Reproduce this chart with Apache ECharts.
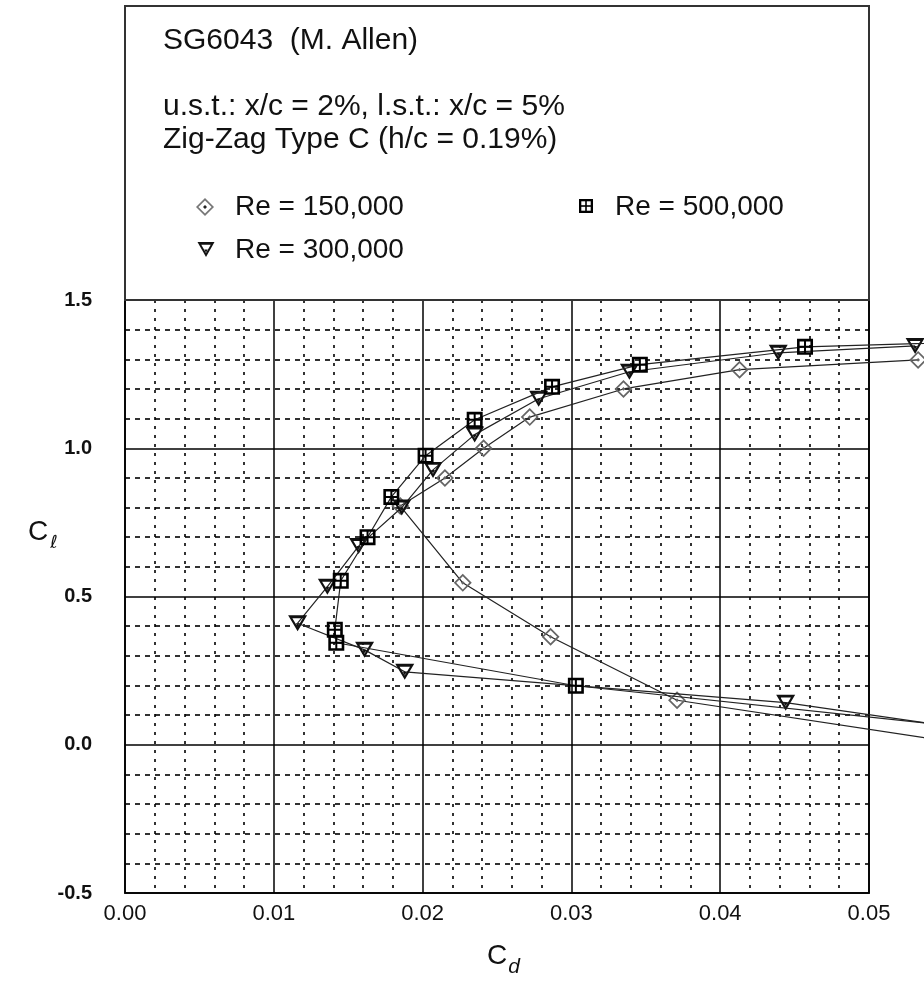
<!DOCTYPE html>
<html><head><meta charset="utf-8">
<script src="https://cdn.jsdelivr.net/npm/echarts@6/dist/echarts.min.js"></script>
<style>html,body{margin:0;padding:0;background:#fff}#c{width:924px;height:1000px}</style>
</head><body><div id="c"></div>
<script>
// ---- data ----
const xTickMin = 0.00, xTickMax = 0.05, xTickStep = 0.01;
const yTickMin = -0.5, yTickMax = 1.5, yTickStep = 0.5;

const re150Name = 'Re = 150,000';
const re150Cd = [0.0533, 0.0413, 0.0335, 0.0272, 0.0241, 0.0215, 0.0185, 0.0227, 0.0286, 0.0371, 0.0600];
const re150Cl = [1.298, 1.265, 1.200, 1.105, 1.000, 0.900, 0.805, 0.546, 0.364, 0.150, -0.024];

const re300Name = 'Re = 300,000';
const re300Cd = [0.0531, 0.0439, 0.0339, 0.0278, 0.0235, 0.0207, 0.0186, 0.0157, 0.0136, 0.0116, 0.0161, 0.0188, 0.0444, 0.0600];
const re300Cl = [1.345, 1.322, 1.258, 1.167, 1.046, 0.927, 0.800, 0.670, 0.533, 0.410, 0.320, 0.246, 0.142, 0.029];

const re500Name = 'Re = 500,000';
const re500Cd = [0.0580, 0.0457, 0.0346, 0.0287, 0.0235, 0.0202, 0.0179, 0.0163, 0.0145, 0.0141, 0.0142, 0.0303, 0.0600];
const re500Cl = [1.360, 1.342, 1.282, 1.207, 1.096, 0.975, 0.836, 0.700, 0.553, 0.388, 0.344, 0.199, 0.040];

const titleLines = ['SG6043  (M. Allen)', 'u.s.t.: x/c = 2%, l.s.t.: x/c = 5%', 'Zig-Zag Type C (h/c = 0.19%)'];

// ---- layout ----
const gridLeft = 125, gridRight = 55, gridTop = 300, gridBottom = 107, chartW = 924;
const plotW = chartW - gridLeft - gridRight;               // width of the framed plot (0 .. 0.05)
// data layer extends to the canvas edge with the same scale (marks run past the frame in the original)
const dataXMax = xTickMax * (chartW - gridLeft) / plotW;

// ---- symbols ----
const diamondPath = 'M8,0 L16,8 L8,16 L0,8 Z M8,2.2 L2.2,8 L8,13.8 L13.8,8 Z M8,6.3 L9.7,8 L8,9.7 L6.3,8 Z';
const trianglePath = 'M0,0 L16,0 L8,14 Z M3.6,2.6 L8,10.3 L12.4,2.6 Z M6.4,7 L9.6,7 L8,10 Z';
const squarePath = 'M0,0 H16 V16 H0 Z M2.6,2.6 V7 H7 V2.6 Z M9,2.6 V7 H13.4 V2.6 Z M2.6,9 V13.4 H7 V9 Z M9,9 V13.4 H13.4 V9 Z';

function zip(a, b) { return a.map((v, i) => [v, b[i]]); }

const chart = echarts.init(document.getElementById('c'), null, {renderer: 'canvas'});

function mkSeries(name, cd, cl, path, size, color, z) {
  return {
    name: name, type: 'line', data: zip(cd, cl), clip: false, z: z,
    xAxisIndex: 1, yAxisIndex: 1,
    symbol: 'path://' + path, symbolSize: size, symbolKeepAspect: false,
    showAllSymbol: true,
    lineStyle: {color: '#222', width: 1.2},
    itemStyle: {color: color},
    emphasis: {disabled: true}
  };
}

// legend marker helpers (graphic polygons / rects)
function poly(pts, fill) { return {type: 'polygon', shape: {points: pts}, style: {fill: fill}, z: 20}; }
function rect(x, y, w, h, fill) { return {type: 'rect', shape: {x: x, y: y, width: w, height: h}, style: {fill: fill}, z: 20}; }
function diamondIcon(cx, cy) {
  return [
    poly([[cx, cy - 9], [cx + 9, cy], [cx, cy + 9], [cx - 9, cy]], '#777'),
    poly([[cx, cy - 6.6], [cx + 6.6, cy], [cx, cy + 6.6], [cx - 6.6, cy]], '#fff'),
    poly([[cx, cy - 2], [cx + 2, cy], [cx, cy + 2], [cx - 2, cy]], '#222')
  ];
}
function triangleIcon(x, y) {
  return [
    poly([[x, y], [x + 17, y], [x + 8.5, y + 15]], '#111'),
    poly([[x + 3.8, y + 2.8], [x + 13.2, y + 2.8], [x + 8.5, y + 11]], '#fff'),
    poly([[x + 6.8, y + 7.5], [x + 10.2, y + 7.5], [x + 8.5, y + 10.7]], '#111')
  ];
}
function squareIcon(x, y) {
  return [
    rect(x, y, 14, 14, '#000'),
    rect(x + 2.3, y + 2.3, 3.9, 3.9, '#fff'),
    rect(x + 7.8, y + 2.3, 3.9, 3.9, '#fff'),
    rect(x + 2.3, y + 7.8, 3.9, 3.9, '#fff'),
    rect(x + 7.8, y + 7.8, 3.9, 3.9, '#fff')
  ];
}

const legendFont = '28px "Liberation Sans", Arial, sans-serif';
const titleFont = '30px "Liberation Sans", Arial, sans-serif';

chart.setOption({
  animation: false,
  backgroundColor: '#fff',
  grid: [
    {left: gridLeft, right: gridRight, top: gridTop, bottom: gridBottom, show: true, borderColor: '#222', borderWidth: 2, backgroundColor: 'transparent'},
    {left: gridLeft, right: 0, top: gridTop, bottom: gridBottom, show: false}
  ],
  xAxis: [{
    gridIndex: 0, type: 'value', min: xTickMin, max: xTickMax, interval: xTickStep,
    axisLine: {show: false}, axisTick: {show: false},
    axisLabel: {formatter: v => v.toFixed(2), margin: 10, color: '#111', fontSize: 22, fontFamily: '"Liberation Sans Narrow", "Liberation Sans", Arial, sans-serif'},
    splitLine: {show: true, lineStyle: {color: '#000', width: 1.5}},
    minorTick: {show: false, splitNumber: 5},
    minorSplitLine: {show: true, lineStyle: {color: '#000', width: 1.6, type: [3, 6]}}
  }, {
    gridIndex: 1, type: 'value', min: xTickMin, max: dataXMax, show: false
  }],
  yAxis: [{
    gridIndex: 0, type: 'value', min: yTickMin, max: yTickMax, interval: yTickStep,
    axisLine: {show: false}, axisTick: {show: false},
    axisLabel: {formatter: v => v.toFixed(1), margin: 33, color: '#111', fontSize: 20, fontWeight: 'bold', fontFamily: '"Liberation Sans", Arial, sans-serif'},
    splitLine: {show: true, lineStyle: {color: '#000', width: 1.5}},
    minorTick: {show: false, splitNumber: 5},
    minorSplitLine: {show: true, lineStyle: {color: '#000', width: 1.6, type: [5, 5]}}
  }, {
    gridIndex: 1, type: 'value', min: yTickMin, max: yTickMax, show: false
  }],
  series: [
    mkSeries(re150Name, re150Cd, re150Cl, diamondPath, [18, 18], '#666', 3),
    mkSeries(re300Name, re300Cd, re300Cl, trianglePath, [19, 16], '#111', 4),
    mkSeries(re500Name, re500Cd, re500Cl, squarePath, [16, 16], '#000', 5)
  ],
  graphic: [
    {type: 'rect', shape: {x: 125, y: 6, width: 744, height: 294}, style: {fill: 'none', stroke: '#333', lineWidth: 2}, z: 10},
    {type: 'text', x: 163, y: 41, style: {text: titleLines[0], font: titleFont, fill: '#111', verticalAlign: 'middle'}},
    {type: 'text', x: 163, y: 107, style: {text: titleLines[1], font: titleFont, fill: '#111', verticalAlign: 'middle'}},
    {type: 'text', x: 163, y: 140, style: {text: titleLines[2], font: titleFont, fill: '#111', verticalAlign: 'middle'}},
    ...diamondIcon(205, 207),
    {type: 'text', x: 235, y: 207, style: {text: re150Name, font: legendFont, fill: '#111', verticalAlign: 'middle'}},
    ...triangleIcon(197.5, 242),
    {type: 'text', x: 235, y: 250, style: {text: re300Name, font: legendFont, fill: '#111', verticalAlign: 'middle'}},
    ...squareIcon(579, 199),
    {type: 'text', x: 615, y: 207, style: {text: re500Name, font: legendFont, fill: '#111', verticalAlign: 'middle'}},
    {type: 'text', x: 28, y: 532, style: {
      text: '{c|C}{s|ℓ}', verticalAlign: 'middle',
      rich: {c: {font: '28px "Liberation Sans", Arial, sans-serif', fill: '#111'},
             s: {font: 'italic 18px "DejaVu Sans", sans-serif', fill: '#111', padding: [22, 0, 0, 2]}}
    }},
    {type: 'text', x: 487, y: 956, style: {
      text: '{c|C}{s|d}', verticalAlign: 'middle',
      rich: {c: {font: '28px "Liberation Sans Narrow", "Liberation Sans", Arial, sans-serif', fill: '#111'},
             s: {font: 'italic 21px "Liberation Sans", Arial, sans-serif', fill: '#111', padding: [22, 0, 0, 1]}}
    }}
  ]
});
</script>
</body></html>
